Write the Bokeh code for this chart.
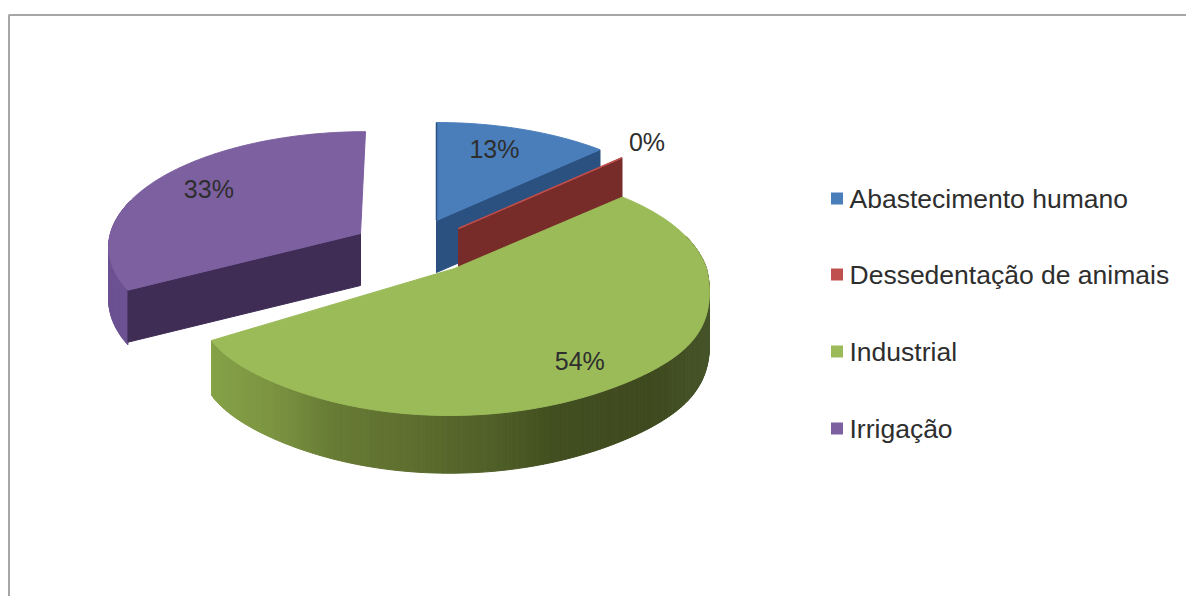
import math
from bokeh.plotting import figure
from bokeh.models import Range1d
from bokeh.core.properties import value
from bokeh.embed import file_html
from bokeh.resources import INLINE

# Share of water use per sector, in percent
categories = ["Abastecimento humano", "Dessedentação de animais", "Industrial", "Irrigação"]
shares = [13, 0, 54, 33]

top_colors = ["#4a7ebb", "#c0504d", "#9bbb59", "#7d60a0"]
wall_colors = ["#2b5180", "#772c2a", "#5f7030", "#3f2d56"]
rim_colors = ["#2b5180", "#772c2a", "#5f7030", "#6c5292"]

# Projection of each exploded slice: apex, rear and front radii, perspective,
# shear, front bulge, depth, and which radial cut face is towards the viewer
slice_view = [
    dict(cx=436, cy=220, rx=255, ryb=117.6, ryf=117.6, p=0.20, sx=0, bulge=0, h=52, face="end"),
    dict(cx=458, cy=228, rx=255, ryb=117.6, ryf=117.6, p=0.20, sx=0, bulge=0, h=52, face="end"),
    dict(cx=454, cy=268, rx=252, ryb=116.5, ryf=122.0, p=0.17, sx=5, bulge=0.275, h=52, face=None),
    dict(cx=360, cy=233, rx=250, ryb=112.0, ryf=112.0, p=0.10, sx=5, bulge=0, h=52, face="start"),
]
# Data label anchor: radial fraction along the bisector plus a pixel nudge
label_anchor = [(0.74, -8, -1), (1.12, 8, -8), (0.84, -12, -5), (0.72, -4, -5)]
draw_order = [3, 0, 1, 2]

# Lighting of the curved green wall, by horizontal position
green_shade = [(205, "#86a347"), (270, "#7c9441"), (330, "#687c35"), (400, "#5f7030"),
               (500, "#4e5e27"), (550, "#424f20"), (650, "#3f4a1f"), (712, "#47552a")]


def project(view, angle, frac=1.0):
    """Map a clockwise-from-top pie angle and radial fraction to page pixels."""
    u = math.sin(angle) * frac
    v = math.cos(angle) * frac
    s = 1.0 / (1.0 + view["p"] * v)
    if v >= 0:
        dy = view["ryb"] * v * s
    else:
        dy = view["ryf"] * (v + view["bulge"] * v * (1 - v * v) ** 3) * s
    return view["cx"] + view["rx"] * u * s + view["sx"] * v, view["cy"] - dy


def depth(view, angle):
    """Wall height grows slightly towards the viewer."""
    return view["h"] * (1.0 - 0.11 * math.cos(angle))


def mix(c1, c2, t):
    a = [int(c1[i:i + 2], 16) for i in (1, 3, 5)]
    b = [int(c2[i:i + 2], 16) for i in (1, 3, 5)]
    return "#%02x%02x%02x" % tuple(round(x + (y - x) * t) for x, y in zip(a, b))


def green_at(x):
    if x <= green_shade[0][0]:
        return green_shade[0][1]
    for (x0, c0), (x1, c1) in zip(green_shade, green_shade[1:]):
        if x <= x1:
            return mix(c0, c1, (x - x0) / (x1 - x0))
    return green_shade[-1][1]


p = figure(width=1186, height=596, output_backend="svg", toolbar_location=None,
           x_range=Range1d(0, 1186), y_range=Range1d(596, 0),
           min_border=0, outline_line_color=None, background_fill_color="white",
           border_fill_color="white")
p.axis.visible = False
p.grid.visible = False

# Chart area border, open towards the right and bottom of the page
p.line([8.5, 8.5, 1186], [596, 14.5, 14.5], line_color="#a6a6a6", line_width=2)

# Slice angles from the cumulative shares
total = sum(shares)
starts, ends, run = [], [], 0
for s in shares:
    starts.append(run / total * 2 * math.pi)
    run += s
    ends.append(run / total * 2 * math.pi)

for i in draw_order:
    view = slice_view[i]
    a0, a1 = starts[i], ends[i]
    n = max(2, int((a1 - a0) / 0.012))
    angles = [a0 + (a1 - a0) * k / n for k in range(n + 1)]
    rim = [project(view, a) for a in angles]
    apex = (view["cx"], view["cy"])

    # Outer curved wall as narrow bands so the shading can vary along it;
    # the far part of the rim hides behind the top surface and is left out
    if a1 > a0:
        for k in range(n):
            if math.cos(angles[k]) > 0.3:
                continue
            (x0, y0), (x1, y1) = rim[k], rim[k + 1]
            d0, d1 = depth(view, angles[k]), depth(view, angles[k + 1])
            col = green_at((x0 + x1) / 2) if i == 2 else rim_colors[i]
            p.patch([x0, x1, x1, x0], [y0, y1, y1 + d1, y0 + d0],
                    fill_color=col, line_color=col, line_width=1)

    # Flat radial cut face, where one faces the viewer
    if view["face"]:
        ex, ey = project(view, a1 if view["face"] == "end" else a0)
        h = view["h"]
        p.patch([apex[0], ex, ex, apex[0]], [apex[1], ey, ey + h, apex[1] + h],
                fill_color=wall_colors[i], line_color=wall_colors[i], line_width=1)

    # Top surface
    if a1 > a0:
        p.patch([apex[0]] + [q[0] for q in rim], [apex[1]] + [q[1] for q in rim],
                fill_color=top_colors[i], line_color=top_colors[i], line_width=1)
        if view["face"] == "end":
            # Far radial edge seen almost edge-on
            sx0, sy0 = project(view, a0)
            p.line([apex[0], sx0], [apex[1], sy0], line_color=wall_colors[i], line_width=1.5)
    else:
        p.line([apex[0], ex], [apex[1], ey], line_color=top_colors[i], line_width=1.5)

# Percentage labels
for i, s in enumerate(shares):
    frac, nx, ny = label_anchor[i]
    lx, ly = project(slice_view[i], (starts[i] + ends[i]) / 2, frac)
    p.text([lx + nx], [ly + ny], text=[f"{s}%"], text_font=value("Liberation Sans"),
           text_font_size="25px", text_color="#2e2e2e", text_align="center",
           text_baseline="middle")

# Legend
legend_y = [198, 274, 351, 428]
p.scatter([836.5] * 4, legend_y, marker="square", size=12, fill_color=top_colors,
          line_color=None)
p.text([849] * 4, legend_y, text=categories, text_font=value("Liberation Sans"),
       text_font_size="26.5px", text_color="#2e2e2e", text_align="left",
       text_baseline="middle")

open("out.html", "w").write(file_html(p, INLINE))
